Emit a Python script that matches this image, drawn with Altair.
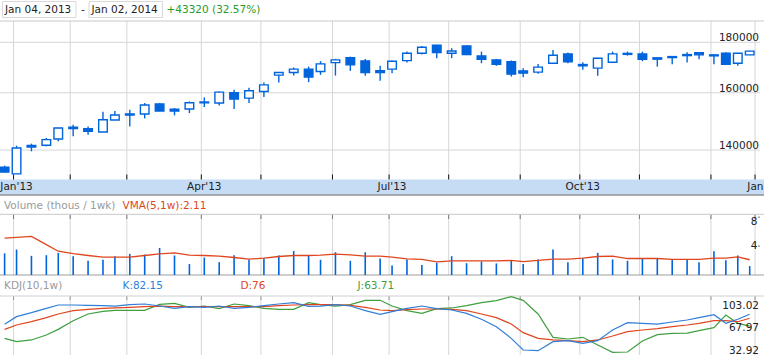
import altair as alt
import pandas as pd

# ---------------- data (weekly candles, Dec 2012 - Jan 2014) ----------------
# trading-day number of each weekly candle
day_num = [0, 4, 9, 14, 18, 23, 28, 33, 37, 42,
           47, 52, 57, 62, 67, 72, 77, 82, 87, 92,
           97, 102, 106, 111, 116, 121, 126, 130, 135, 140,
           145, 150, 155, 160, 165, 170, 174, 179, 184, 189,
           194, 199, 204, 209, 214, 219, 224, 229, 233, 238,
           242, 246, 250]

open_ = [134500, 132430, 141000, 141550, 143670, 147700, 147150, 146030, 150160, 152300,
         152270, 155850, 154000, 154050, 156300, 156210, 160000, 158040, 160480, 166720,
         167730, 169070, 168130, 171680, 173680, 172370, 168500, 169070, 172480, 175470,
         178770, 175470, 178480, 174370, 172770, 172080, 168400, 167890, 171440, 175190,
         170400, 169460, 171840, 175000, 175190, 173600, 173700, 174500, 175730, 174800,
         175470, 171440, 174800]
high = [135000, 141440, 142100, 144000, 147390, 148530, 147930, 153090, 153330, 153800,
        156210, 156210, 154400, 156800, 158260, 160500, 161120, 161870, 163880, 167730,
        169700, 170090, 172240, 173170, 174100, 173170, 170370, 172500, 176130, 178480,
        179000, 177520, 178700, 176130, 173170, 172480, 169460, 171160, 176830, 175730,
        171840, 173600, 176130, 176130, 176130, 173600, 174100, 175880, 175880, 174800,
        175880, 175600, 176500]
low = [132800, 132430, 139580, 141200, 142860, 144540, 145110, 146030, 150160, 147930,
       150720, 153330, 151780, 152620, 154770, 155340, 154050, 156210, 158410, 163880,
       166570, 164030, 166850, 166570, 168400, 166450, 164530, 167500, 171680, 175000,
       173450, 173450, 174700, 171440, 170370, 166180, 165950, 167230, 171160, 171440,
       168800, 166450, 171840, 174500, 172240, 170090, 171040, 171680, 173050, 171040,
       171040, 170370, 174800]
close = [133006, 140690, 141500, 143440, 147390, 147200, 146220, 150260, 151920, 151900,
         155490, 153330, 153330, 156320, 156600, 160260, 157670, 160750, 163000, 167730,
         169070, 165950, 171160, 172770, 170760, 167730, 167730, 172240, 175470, 177940,
         175730, 176400, 174920, 173050, 171040, 167110, 167500, 169860, 174650, 171960,
         170900, 173450, 175190, 175400, 173050, 173050, 174100, 174920, 174800, 174400,
         171040, 175470, 176326]

volume = [3.00, 3.52, 2.65, 2.74, 3.06, 2.60, 1.96, 2.10, 2.60, 2.92,
          2.83, 3.74, 2.70, 1.51, 2.42, 1.78, 2.74, 2.15, 2.33, 2.70,
          3.33, 2.70, 2.10, 3.15, 1.96, 3.15, 2.28, 1.32, 2.15, 1.37,
          1.69, 2.60, 1.64, 1.87, 1.60, 1.96, 1.51, 2.15, 3.52, 1.78,
          2.33, 3.06, 2.15, 1.96, 2.24, 2.28, 2.15, 2.15, 1.78, 3.29,
          2.05, 2.70, 1.23]
vma = [5.10, 5.20, 5.34, 4.20, 3.29, 2.97, 2.70, 2.47, 2.47, 2.47,
       2.70, 2.92, 3.06, 2.74, 2.70, 2.60, 2.42, 2.19, 2.33, 2.56,
       2.70, 2.70, 2.74, 2.88, 2.79, 2.60, 2.60, 2.47, 2.24, 2.15,
       1.83, 1.96, 1.96, 1.96, 1.96, 2.01, 1.85, 2.01, 2.19, 2.19,
       2.33, 2.56, 2.60, 2.28, 2.28, 2.28, 2.15, 2.15, 2.15, 2.33,
       2.33, 2.51, 2.11]

k_line = [66.5, 78.4, 84.5, 91.2, 96.4, 96.4, 95.9, 95.4, 94.8, 96.9,
          97.9, 94.8, 91.2, 93.8, 92.8, 94.8, 91.2, 92.8, 95.4, 97.9,
          100.0, 94.3, 94.8, 96.9, 94.8, 87.6, 82.0, 86.1, 91.2, 94.8,
          90.7, 88.7, 83.5, 74.3, 62.9, 44.9, 26.9, 25.9, 39.8, 41.3,
          37.2, 41.3, 57.8, 69.1, 68.1, 67.0, 70.1, 73.2, 76.8, 81.5,
          68.1, 74.3, 82.15]
d_line = [58.8, 65.5, 70.6, 76.8, 82.5, 87.6, 89.7, 91.2, 91.8, 92.8,
          93.8, 94.8, 93.8, 93.8, 93.8, 93.8, 93.8, 93.8, 93.8, 95.4,
          96.4, 96.9, 96.9, 96.9, 95.9, 92.8, 88.7, 87.6, 89.2, 90.2,
          90.2, 89.7, 87.6, 82.5, 76.8, 67.0, 53.7, 44.9, 42.4, 41.3,
          39.8, 42.4, 48.5, 55.2, 57.8, 59.8, 62.9, 65.5, 68.1, 72.2,
          72.2, 70.6, 76.0]
j_line = [44.9, 39.8, 42.4, 50.1, 58.8, 72.2, 82.5, 86.6, 88.1, 88.1,
          88.1, 97.4, 98.9, 92.8, 94.8, 90.7, 97.9, 95.4, 91.2, 89.7,
          89.7, 100.0, 96.9, 94.8, 96.9, 103.6, 103.6, 94.8, 87.6, 83.5,
          90.7, 91.8, 95.4, 100.0, 103.1, 109.3, 103.6, 82.5, 46.5, 43.9,
          46.5, 34.6, 23.3, 23.8, 40.8, 50.6, 52.6, 53.1, 56.8, 61.4,
          81.0, 68.1, 63.71]

month_line_day = [3, 22, 41, 66, 86, 110, 129, 149, 173, 193, 213, 237, 251.8]
quarter_labels = ["Jan'13", "Apr'13", "Jul'13", "Oct'13"]
quarter_label_day = [4, 67, 130, 194]
last_label = "Jan"
price_ticks = [140000, 160000, 180000]
price_tick_labels = ["140000", "160000", "180000"]
kdj_ticks = [103.02, 67.97, 32.92]
kdj_tick_labels = ["103.02", "67.97", "32.92"]

# ---------------- styling ----------------
FONT = "DejaVu Sans"
FS = 10.5
BLUE = "#0064dc"
GRID = "#d6d6d6"
TXT = "#222222"
K_COL = "#2f7fd8"
D_COL = "#e0461e"
J_COL = "#3f9f3f"
GRAY_TXT = "#9a9a9a"

df = pd.DataFrame({
    "day": day_num, "open": open_, "high": high, "low": low, "close": close,
    "volume": volume, "vma": vma, "k": k_line, "d": d_line, "j": j_line,
})
mdf = pd.DataFrame({"day": month_line_day})
qdf = pd.DataFrame({"day": quarter_label_day, "label": quarter_labels})
pdf = pd.DataFrame({"p": price_ticks, "label": price_tick_labels})
kdf = pd.DataFrame({"v": kdj_ticks, "label": kdj_tick_labels})
one = pd.DataFrame({"a": [0]})

xs = alt.Scale(domain=[0.126, 251.78], range=[0, 760], zero=False, nice=False)
ps = alt.Scale(type="log", domain=[130700, 189170], range=[179.5, 21], nice=False)
vs = alt.Scale(domain=[0, 8.4], range=[275, 214.3], zero=False, nice=False)
ks = alt.Scale(domain=[19.19, 110.28], range=[355, 296], zero=False, nice=False)
X = alt.X("day:Q", scale=xs, axis=None)


def hline(y, color, width=1.0, x1=0, x2=764):
    return alt.Chart(one).mark_rule(color=color, strokeWidth=width).encode(
        x=alt.value(x1), x2=alt.value(x2), y=alt.value(y))


def box(x1, x2, y1, y2, fill, stroke=None):
    kw = dict(fill=fill)
    if stroke:
        kw.update(stroke=stroke, strokeWidth=1)
    return alt.Chart(one).mark_rect(**kw).encode(
        x=alt.value(x1), x2=alt.value(x2), y=alt.value(y1), y2=alt.value(y2))


def txt(s, x, y, color, align="left", baseline="middle"):
    return alt.Chart(one).mark_text(text=s, font=FONT, fontSize=FS, color=color,
                                    align=align, baseline=baseline).encode(
        x=alt.value(x), y=alt.value(y))


def vgrid(y1, y2, color=GRID):
    return alt.Chart(mdf).mark_rule(color=color, strokeWidth=1).encode(
        x=X, y=alt.value(y1), y2=alt.value(y2))


layers = [
    # header
    box(2.5, 76, 1.5, 17.5, "white", "#d9d9d9"),
    box(89, 162.5, 1.5, 17.5, "white", "#d9d9d9"),
    txt("Jan 04, 2013", 5, 10, TXT),
    txt("-", 81, 10, TXT),
    txt("Jan 02, 2014", 91.5, 10, TXT),
    txt("+43320 (32.57%)", 166.5, 10, "#2a9a2a"),
    # x-axis band
    box(0, 764, 179.5, 194.5, "#c6dcf5"),
    hline(195, "#8f8f8f", 1.5),
    # grids
    alt.Chart(pdf).mark_rule(color=GRID, strokeWidth=1).encode(
        x=alt.value(0), x2=alt.value(760), y=alt.Y("p:Q", scale=ps, axis=None)),
    vgrid(21, 179.5),
    vgrid(214.3, 275),
    vgrid(296, 355),
    # ticks
    vgrid(174.5, 179.5, "#111111"),
    vgrid(214.3, 219, "#777777"),
    vgrid(296, 300, "#999999"),
    # panel borders
    hline(21, "#c8c8c8"),
    hline(214.3, "#c8c8c8"),
    hline(275, "#a0a0a0", 1.2),
    hline(296, "#d0d0d0"),
    # candles
    alt.Chart(df).mark_rule(color=BLUE, strokeWidth=1.4).encode(
        x=X, y=alt.Y("low:Q", scale=ps, axis=None), y2="high:Q"),
    alt.Chart(df).mark_bar(size=8.6, stroke=BLUE, strokeWidth=1.4).encode(
        x=X, y=alt.Y("open:Q", scale=ps, axis=None), y2="close:Q",
        fill=alt.condition("datum.close >= datum.open", alt.value("white"), alt.value(BLUE))),
    alt.Chart(pdf).mark_text(font=FONT, fontSize=FS, color=TXT, align="right",
                             baseline="alphabetic", dy=-1).encode(
        x=alt.value(759), y=alt.Y("p:Q", scale=ps, axis=None), text="label:N"),
    alt.Chart(qdf).mark_text(font=FONT, fontSize=FS, color=TXT, baseline="middle").encode(
        x=X, y=alt.value(187), text="label:N"),
    txt(last_label, 763.5, 187, TXT, align="right"),
    # volume panel
    txt("Volume (thous / 1wk)", 4, 206, GRAY_TXT),
    txt("VMA(5,1w):2.11", 122.5, 206, D_COL),
    alt.Chart(df).mark_rule(color=BLUE, strokeWidth=1.6).encode(
        x=X, y=alt.Y("volume:Q", scale=vs, axis=None), y2=alt.datum(0)),
    alt.Chart(df).mark_line(color=D_COL, strokeWidth=1.3).encode(
        x=X, y=alt.Y("vma:Q", scale=vs, axis=None)),
    alt.Chart(pd.DataFrame({"v": [8]})).mark_text(text="8", font=FONT, fontSize=FS, color=TXT,
                                                   align="right", baseline="top").encode(
        x=alt.value(757.5), y=alt.Y("v:Q", scale=vs, axis=None)),
    alt.Chart(pd.DataFrame({"v": [4]})).mark_text(text="4", font=FONT, fontSize=FS, color=TXT,
                                                   align="right", baseline="middle").encode(
        x=alt.value(757.5), y=alt.Y("v:Q", scale=vs, axis=None)),
    alt.Chart(pd.DataFrame({"v": [8, 4]})).mark_rule(color="#777777").encode(
        x=alt.value(758), x2=alt.value(760), y=alt.Y("v:Q", scale=vs, axis=None)),
    # KDJ panel
    txt("KDJ(10,1w)", 4, 286, GRAY_TXT),
    txt("K:82.15", 122.5, 286, K_COL),
    txt("D:76", 240.5, 286, D_COL),
    txt("J:63.71", 357.5, 286, J_COL),
    alt.Chart(df).mark_line(color=J_COL, strokeWidth=1.2).encode(
        x=X, y=alt.Y("j:Q", scale=ks, axis=None)),
    alt.Chart(df).mark_line(color=D_COL, strokeWidth=1.2).encode(
        x=X, y=alt.Y("d:Q", scale=ks, axis=None)),
    alt.Chart(df).mark_line(color=K_COL, strokeWidth=1.2).encode(
        x=X, y=alt.Y("k:Q", scale=ks, axis=None)),
    alt.Chart(kdf).mark_text(font=FONT, fontSize=FS, color=TXT, align="right",
                             baseline="top").encode(
        x=alt.value(759), y=alt.Y("v:Q", scale=ks, axis=None), text="label:N"),
]

chart = alt.layer(*layers).resolve_scale(y="independent").properties(
    width=764, height=355,
    autosize=alt.AutoSizeParams(type="none"),
    padding=0,
    background="white",
).configure_view(stroke=None)

chart.save("out.html", embed_options={"renderer": "svg", "actions": False})
